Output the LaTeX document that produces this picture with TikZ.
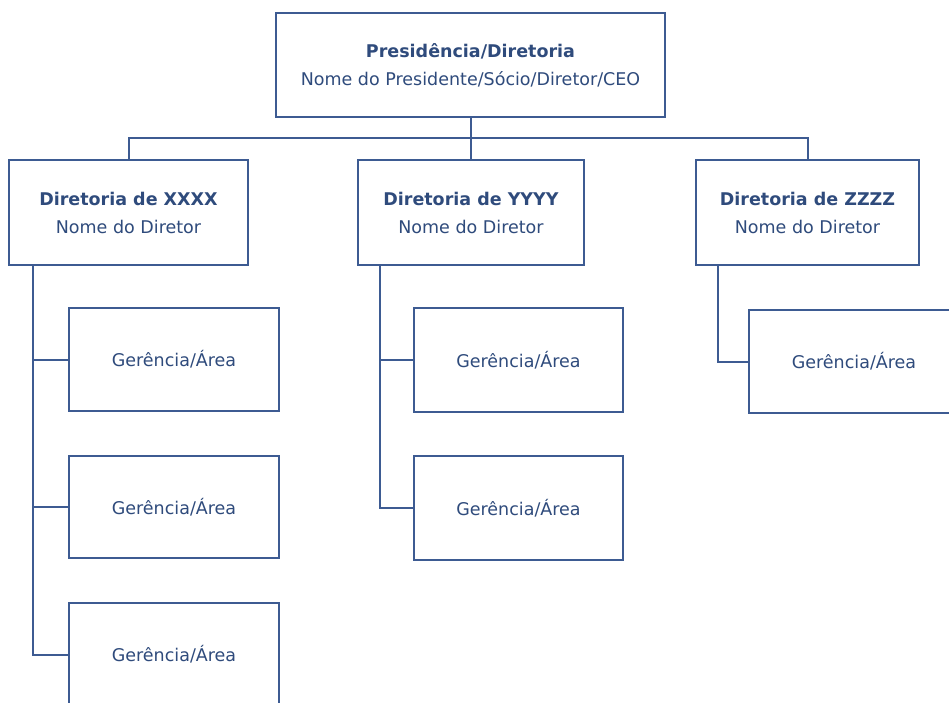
\documentclass[tikz,border=0pt]{standalone}
\usepackage{fontspec}
\setmainfont{DejaVu Sans}
\definecolor{txt}{HTML}{2F4B7C}
\definecolor{ln}{HTML}{3D5B92}
\tikzset{
  box/.style={draw=ln, line width=2pt, text=txt, align=center, inner sep=0pt,
    font=\fontsize{17.5}{28}\selectfont},
  conn/.style={draw=ln, line width=2pt},
}
\begin{document}
\begin{tikzpicture}[x=1pt,y=-1pt]
\useasboundingbox (0,0) rectangle (949,703);
\clip (0,0) rectangle (949,703);
\fill[white] (0,0) rectangle (949,703);
\node[box, minimum width=389pt, minimum height=104pt] (top) at (470.5,65) {\textbf{Presidência/Diretoria}\\Nome do Presidente/Sócio/Diretor/CEO};
\node[box, minimum width=239pt, minimum height=105pt] (dx) at (128.5,212.5) {\textbf{Diretoria de XXXX}\\Nome do Diretor};
\node[box, minimum width=226pt, minimum height=105pt] (dy) at (471,212.5) {\textbf{Diretoria de YYYY}\\Nome do Diretor};
\node[box, minimum width=223pt, minimum height=105pt] (dz) at (807.5,212.5) {\textbf{Diretoria de ZZZZ}\\Nome do Diretor};
\node[box, minimum width=210pt, minimum height=103pt] (g11) at (174,359.5) {Gerência/Área};
\node[box, minimum width=210pt, minimum height=102pt] (g12) at (174,507) {Gerência/Área};
\node[box, minimum width=210pt, minimum height=103pt] (g13) at (174,654.5) {Gerência/Área};
\node[box, minimum width=209pt, minimum height=104pt] (g21) at (518.5,360) {Gerência/Área};
\node[box, minimum width=209pt, minimum height=104pt] (g22) at (518.5,508) {Gerência/Área};
\node[box, minimum width=210pt, minimum height=103pt] (g31) at (854,361.5) {Gerência/Área};
\coordinate (bus) at (470.5,138);
\coordinate (s1) at (33,265);
\coordinate (s2) at (380,265);
\coordinate (s3) at (718,265);
\draw[conn] (top.south) -- (bus);
\draw[conn] (dx.north) -- (dx.north |- bus) -- (dz.north |- bus) -- (dz.north);
\draw[conn] (dy.north) -- (dy.north |- bus);
\draw[conn] (s1) |- (g11.west);
\draw[conn] (s1) |- (g12.west);
\draw[conn] (s1) |- (g13.west);
\draw[conn] (s2) |- (g21.west);
\draw[conn] (s2) |- (g22.west);
\draw[conn] (s3) |- (g31.west);
\end{tikzpicture}
\end{document}
